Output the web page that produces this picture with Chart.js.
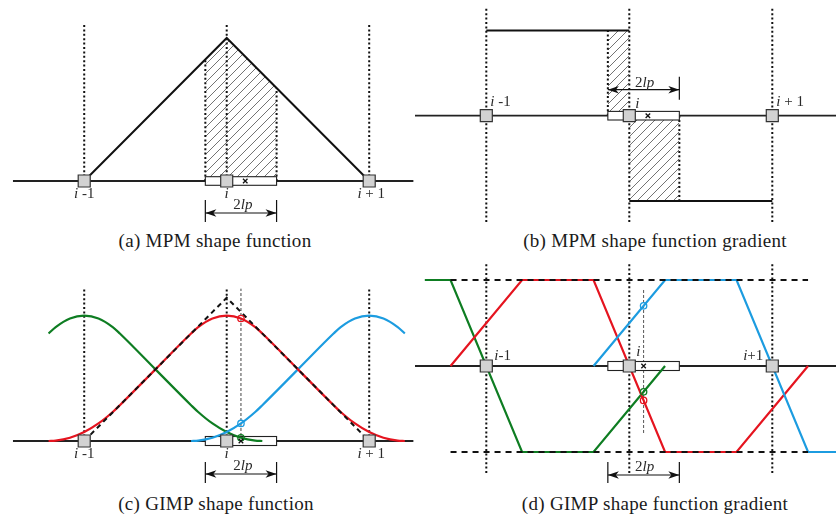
<!DOCTYPE html>
<html>
<head>
<meta charset="utf-8">
<script src="https://cdn.jsdelivr.net/npm/chart.js@4.4.1/dist/chart.umd.min.js"></script>
<style>
  html,body{margin:0;padding:0;background:#fff;}
  body{width:836px;height:519px;position:relative;overflow:hidden;}
  canvas{position:absolute;display:block;}
  .cap{position:absolute;font-family:"Liberation Serif",serif;font-size:19px;letter-spacing:0.3px;line-height:1;color:#1a1a1a;white-space:nowrap;transform:translateX(-50%);}
</style>
</head>
<body>
<canvas id="ca" width="415" height="230" style="left:0;top:0"></canvas>
<canvas id="cb" width="421" height="230" style="left:415px;top:0"></canvas>
<canvas id="cc" width="415" height="230" style="left:0;top:260px"></canvas>
<canvas id="cd" width="421" height="230" style="left:415px;top:260px"></canvas>
<div class="cap" style="left:215px;top:231px">(a) MPM shape function</div>
<div class="cap" style="left:655px;top:231px">(b) MPM shape function gradient</div>
<div class="cap" style="left:216px;top:494px">(c) GIMP shape function</div>
<div class="cap" style="left:655px;top:494px">(d) GIMP shape function gradient</div>
<script>
// ---------------- data (x in cell units, node i at 0) ----------------
const nodes = [-1, 0, 1];
const nodeLabelsABC = ['i -1', 'i', 'i + 1'];
const nodeLabelsD = ['i-1', 'i', 'i+1'];
const dimLabel = '2lp';
const particleDomain = [-0.15, 0.35];   // particle extent (width 2lp)
const particleCentreAB = 0.13;          // × marker in (a),(b)
const particleCentreCD = 0.1;           // particle position in (c),(d)

// (a) MPM shape function
const mpmHat = [{x:-1,y:0},{x:0,y:1},{x:1,y:0}];
const mpmHatch = [{x:-0.15,y:0.85},{x:0,y:1},{x:0.35,y:0.65}];

// (b) MPM gradient
const mpmGradTop = [{x:-1,y:1},{x:0,y:1}];
const mpmGradBottom = [{x:0,y:-1},{x:1,y:-1}];
const mpmGradHatchTop = [{x:-0.15,y:1},{x:0,y:1}];
const mpmGradHatchBottom = [{x:0,y:-1},{x:0.35,y:-1}];

// (c) GIMP shape functions
const gimpX_red   = [-1.25,-1.2,-1.1,-1.0,-0.9,-0.8,-0.75,-0.5,-0.25,-0.2,-0.1,0,0.1,0.2,0.25,0.5,0.75,0.8,0.9,1.0,1.1,1.2,1.25];
const gimpY_red   = [0,0.0025,0.0225,0.0625,0.1225,0.2025,0.25,0.5,0.75,0.795,0.855,0.875,0.855,0.795,0.75,0.5,0.25,0.2025,0.1225,0.0625,0.0225,0.0025,0];
const gimpX_green = [-1.25,-1.2,-1.1,-1.0,-0.9,-0.8,-0.75,-0.5,-0.25,-0.2,-0.1,0,0.1,0.2,0.25];
const gimpY_green = [0.75,0.795,0.855,0.875,0.855,0.795,0.75,0.5,0.25,0.2025,0.1225,0.0625,0.0225,0.0025,0];
const gimpX_blue  = [-0.25,-0.2,-0.1,0,0.1,0.2,0.25,0.5,0.75,0.8,0.9,1.0,1.1,1.2,1.25];
const gimpY_blue  = [0,0.0025,0.0225,0.0625,0.1225,0.2025,0.25,0.5,0.75,0.795,0.855,0.875,0.855,0.795,0.75];
const gimpAtParticle = {red:0.855, blue:0.1225, green:0.0225};

// (d) GIMP gradients
const gradX_red   = [-1.25,-0.75,-0.25,0.25,0.75,1.25];
const gradY_red   = [0,1,1,-1,-1,0];
const gradX_green = [-1.43,-1.25,-0.75,-0.25,0.25];
const gradY_green = [1,1,-1,-1,0];
const gradX_blue  = [-0.25,0.25,0.75,1.25,1.45];
const gradY_blue  = [0,1,1,-1,-1];
const gradAtParticle = {red:-0.4, green:-0.3, blue:0.7};
const gradLevels = [1, -1];

// ---------------- helpers ----------------
const RED = '#e5141f', GREEN = '#0e7d22', BLUE = '#1c9ce0', INK = '#111';
const zip = (xs, ys) => xs.map((x, k) => ({x, y: ys[k]}));
const DOT = {borderDash:[2,2.4], borderWidth:2, borderColor:INK};
function seg(x0,y0,x1,y1,opt){
  return Object.assign({data:[{x:x0,y:y0},{x:x1,y:y1}], borderColor:'#222', borderWidth:1.8, pointRadius:0, fill:false}, opt||{});
}
function curve(data, color, opt){
  return Object.assign({data, borderColor:color, borderWidth:2.2, pointRadius:0, fill:false}, opt||{});
}
function squares(){
  return {data: nodes.map(n=>({x:n,y:0})), showLine:false, pointStyle:'rect', pointRadius:8.5,
    pointBackgroundColor:'#d2d2d2', pointBorderColor:'#333', pointBorderWidth:1.2};
}
function marks(x, y, color, style){
  return {data:[{x,y}], showLine:false, pointStyle:style, pointRadius:3.2,
    pointBackgroundColor:'rgba(0,0,0,0)', pointBorderColor:color, pointBorderWidth:1.3};
}
function hatchPattern(){
  const c = document.createElement('canvas'); c.width = 9; c.height = 9;
  const g = c.getContext('2d'); g.strokeStyle = '#444'; g.lineWidth = 0.75;
  g.beginPath(); g.moveTo(0,9); g.lineTo(9,0); g.moveTo(-1,1); g.lineTo(1,-1); g.moveTo(8,10); g.lineTo(10,8); g.stroke();
  return g.createPattern(c, 'repeat');
}
const PAT = hatchPattern();
function hatch(data){ return {data, fill:'origin', backgroundColor:PAT, borderWidth:0, pointRadius:0}; }
function particleRect(hpx){ return {data:[], particleRect:particleDomain, hpx}; }

function mixed(ctx, text, x, y, align){
  const parts = [];
  for (const ch of text){
    const it = /[a-z]/.test(ch);
    if (parts.length && parts[parts.length-1][1] === it) parts[parts.length-1][0] += ch;
    else parts.push([ch, it]);
  }
  const fonts = parts.map(p => (p[1] ? 'italic ' : '') + '15px "Liberation Serif"');
  let w = 0;
  const ws = parts.map((p,k)=>{ ctx.font = fonts[k]; const m = ctx.measureText(p[0]).width; w += m; return m; });
  let cx = align === 'center' ? x - w/2 : align === 'right' ? x - w : x;
  ctx.textAlign = 'left'; ctx.textBaseline = 'alphabetic'; ctx.fillStyle = '#2a2a2a';
  parts.forEach((p,k)=>{ ctx.font = fonts[k]; ctx.fillText(p[0], cx, y); cx += ws[k]; });
}
function dim(ctx, xa, xb, y, ticks){
  ctx.save(); ctx.strokeStyle = INK; ctx.fillStyle = INK; ctx.lineWidth = 1.2;
  ctx.beginPath(); ctx.moveTo(xa, y); ctx.lineTo(xb, y); ctx.stroke();
  ctx.beginPath(); ctx.moveTo(xa, y); ctx.lineTo(xa+11, y-3.8); ctx.lineTo(xa+8, y); ctx.lineTo(xa+11, y+3.8); ctx.closePath(); ctx.fill();
  ctx.beginPath(); ctx.moveTo(xb, y); ctx.lineTo(xb-11, y-3.8); ctx.lineTo(xb-8, y); ctx.lineTo(xb-11, y+3.8); ctx.closePath(); ctx.fill();
  ctx.beginPath(); ticks.forEach(t=>{ ctx.moveTo(t[0], t[1]); ctx.lineTo(t[0], t[2]); }); ctx.stroke();
  ctx.restore();
}

function makeChart(id, xr, yr, sets, deco){
  const plugin = {
    id: 'deco_' + id,
    afterDatasetDraw(chart, args){
      const ds = chart.data.datasets[args.index];
      if (!ds.particleRect) return;
      const xs = chart.scales.x, ys = chart.scales.y, ctx = chart.ctx;
      const x0 = xs.getPixelForValue(ds.particleRect[0]), x1 = xs.getPixelForValue(ds.particleRect[1]);
      const y0 = ys.getPixelForValue(0);
      ctx.save(); ctx.fillStyle = '#fff'; ctx.strokeStyle = '#222'; ctx.lineWidth = 1.1;
      ctx.fillRect(x0, y0 - ds.hpx, x1 - x0, 2*ds.hpx);
      ctx.strokeRect(x0, y0 - ds.hpx, x1 - x0, 2*ds.hpx);
      ctx.restore();
    },
    afterDraw(chart){ deco(chart, chart.ctx, chart.scales.x, chart.scales.y); }
  };
  return new Chart(document.getElementById(id), {
    type: 'line',
    data: {datasets: sets.slice().reverse()},
    options: {
      responsive:false, animation:false, events:[],
      layout:{padding:0, autoPadding:false},
      plugins:{legend:{display:false}, tooltip:{enabled:false}},
      elements:{point:{radius:0}, line:{tension:0}},
      scales:{
        x:{type:'linear', min:xr[0], max:xr[1], display:false},
        y:{type:'linear', min:yr[0], max:yr[1], display:false}
      }
    },
    plugins:[plugin]
  });
}

// ---------------- (a) ----------------
makeChart('ca', [-1.591, 1.3214], [-0.3427, 1.2657], [
  seg(-1.5,0,1.31,0),
  hatch(mpmHatch),
  ...nodes.map(n => seg(n,0,n,1.09,DOT)),
  seg(particleDomain[0],0,particleDomain[0],mpmHatch[0].y,DOT),
  seg(particleDomain[1],0,particleDomain[1],mpmHatch[2].y,DOT),
  curve(mpmHat, INK, {borderWidth:2}),
  particleRect(4.3),
  squares(),
  marks(particleCentreAB, 0, INK, 'crossRot')
], (chart, ctx, xs, ys) => {
  const b = ys.getPixelForValue(0);
  nodes.forEach((n,k) => mixed(ctx, nodeLabelsABC[k], xs.getPixelForValue(n) + (k===2?2:0), b + 17, 'center'));
  const xa = xs.getPixelForValue(particleDomain[0]), xb = xs.getPixelForValue(particleDomain[1]);
  dim(ctx, xa, xb, b + 32, [[xa, b+19, b+41],[xb, b+19, b+41]]);
  mixed(ctx, dimLabel, (xa+xb)/2 + 2, b + 28, 'center');
});

// ---------------- (b) ----------------
makeChart('cb', [-1.4986, 1.4455], [-1.34, 1.3564], [
  seg(-1.5,0,1.45,0),
  hatch(mpmGradHatchTop),
  hatch(mpmGradHatchBottom),
  ...nodes.map(n => seg(n,-1.246,n,1.263,DOT)),
  seg(particleDomain[0],0,particleDomain[0],1,DOT),
  seg(particleDomain[1],0,particleDomain[1],-1,DOT),
  curve(mpmGradTop, INK, {borderWidth:2}),
  curve(mpmGradBottom, INK, {borderWidth:2}),
  particleRect(4.3),
  squares(),
  marks(particleCentreAB, 0, INK, 'crossRot')
], (chart, ctx, xs, ys) => {
  const b = ys.getPixelForValue(0);
  nodes.forEach((n,k) => mixed(ctx, nodeLabelsABC[k], xs.getPixelForValue(n) + (k===1?6:4), b - (k===1?8:10), 'left'));
  const xa = xs.getPixelForValue(particleDomain[0]), xb = xs.getPixelForValue(particleDomain[1]);
  dim(ctx, xa, xb, b - 26, [[xb, b-39, b-16]]);
  mixed(ctx, dimLabel, (xa+xb)/2 + 1, b - 29, 'center');
});

// ---------------- (c) ----------------
makeChart('cc', [-1.591, 1.3214], [-0.3419, 1.2631], [
  seg(-1.5,0,1.31,0),
  ...nodes.map(n => seg(n,0,n,1.063,DOT)),
  seg(particleCentreCD,0,particleCentreCD,1.063,{borderDash:[3,2],borderWidth:1,borderColor:'#444'}),
  particleRect(4.5),
  curve(zip(gimpX_green, gimpY_green), GREEN, {cubicInterpolationMode:'monotone'}),
  curve(zip(gimpX_blue, gimpY_blue), BLUE, {cubicInterpolationMode:'monotone'}),
  curve(zip(gimpX_red, gimpY_red), RED, {cubicInterpolationMode:'monotone'}),
  curve(mpmHat, INK, {borderWidth:2, borderDash:[5,4]}),
  squares(),
  marks(particleCentreCD, gimpAtParticle.red, RED, 'circle'),
  marks(particleCentreCD, gimpAtParticle.blue, BLUE, 'circle'),
  marks(particleCentreCD, gimpAtParticle.green, GREEN, 'circle'),
  marks(particleCentreCD, 0, INK, 'crossRot')
], (chart, ctx, xs, ys) => {
  const b = ys.getPixelForValue(0);
  nodes.forEach((n,k) => mixed(ctx, nodeLabelsABC[k], xs.getPixelForValue(n) + (k===2?2:0), b + 17, 'center'));
  const xa = xs.getPixelForValue(particleDomain[0]), xb = xs.getPixelForValue(particleDomain[1]);
  dim(ctx, xa, xb, b + 33, [[xa, b+21, b+42],[xb, b+21, b+42]]);
  mixed(ctx, dimLabel, (xa+xb)/2 + 2, b + 29, 'center');
});

// ---------------- (d) ----------------
makeChart('cd', [-1.4986, 1.4455], [-1.4419, 1.2326], [
  seg(-1.5,0,1.45,0),
  ...nodes.map(n => seg(n,-1.244,n,1.198,DOT)),
  seg(particleCentreCD,-0.779,particleCentreCD,0.907,{borderDash:[3,2],borderWidth:1,borderColor:'#555'}),
  particleRect(4.5),
  curve(zip(gradX_green, gradY_green), GREEN),
  curve(zip(gradX_red, gradY_red), RED),
  curve(zip(gradX_blue, gradY_blue), BLUE),
  ...gradLevels.map(v => seg(-1.25, v, 1.25, v, {borderDash:[6,5], borderWidth:1.8, borderColor:INK})),
  squares(),
  marks(particleCentreCD, gradAtParticle.blue, BLUE, 'circle'),
  marks(particleCentreCD, gradAtParticle.green, GREEN, 'circle'),
  marks(particleCentreCD, gradAtParticle.red, RED, 'circle'),
  marks(particleCentreCD, 0, INK, 'crossRot')
], (chart, ctx, xs, ys) => {
  const b = ys.getPixelForValue(0);
  const px = nodes.map(n => xs.getPixelForValue(n));
  mixed(ctx, nodeLabelsD[0], px[0] + 8, b - 6, 'left');
  mixed(ctx, nodeLabelsD[1], px[1] + 7, b - 10, 'left');
  mixed(ctx, nodeLabelsD[2], px[2] - 9, b - 6, 'right');
  const xa = xs.getPixelForValue(particleDomain[0]), xb = xs.getPixelForValue(particleDomain[1]);
  dim(ctx, xa, xb, b + 109, [[xa, b+96, b+117],[xb, b+96, b+117]]);
  mixed(ctx, dimLabel, (xa+xb)/2 + 1, b + 105, 'center');
});
</script>
</body>
</html>
